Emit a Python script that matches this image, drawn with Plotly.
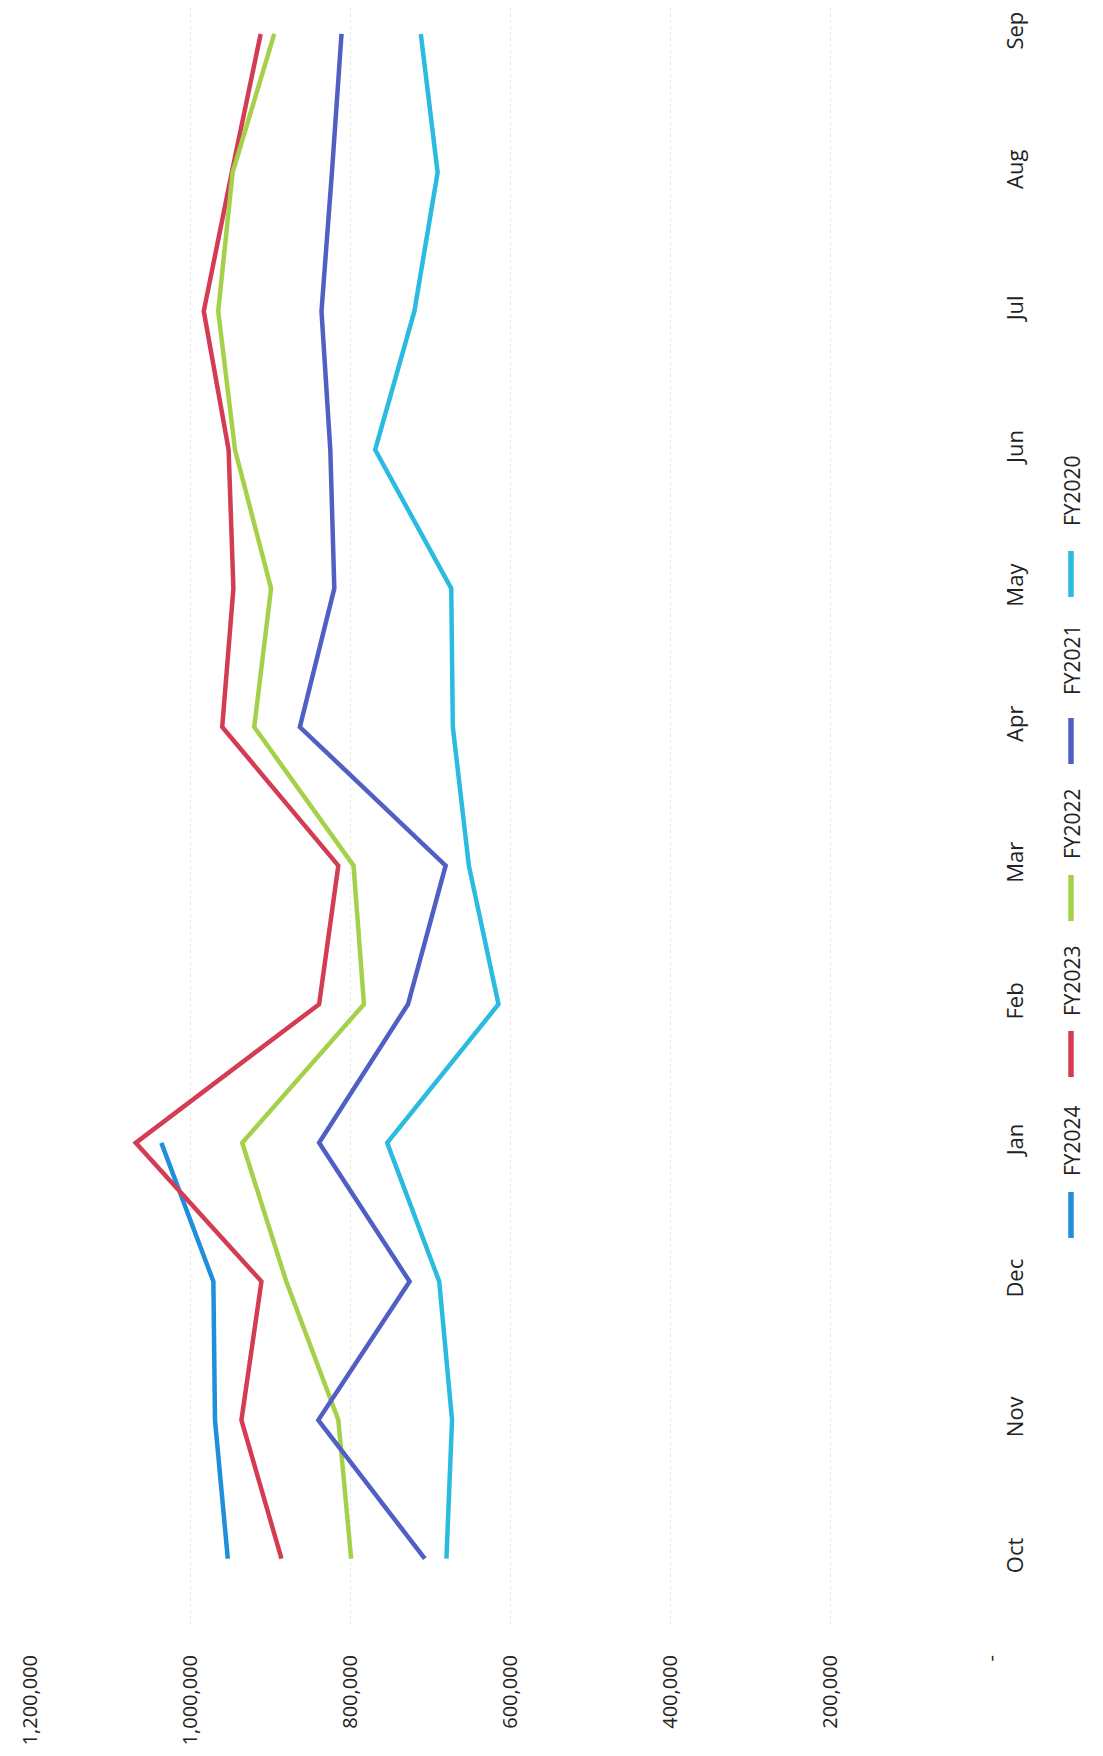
import plotly.graph_objects as go

months = ["Oct", "Nov", "Dec", "Jan", "Feb", "Mar", "Apr", "May", "Jun", "Jul", "Aug", "Sep"]

fy2024 = [953000, 969000, 971000, 1036000, None, None, None, None, None, None, None, None]
fy2023 = [886000, 936000, 911000, 1068000, 839000, 815000, 960000, 946000, 952000, 983000, 948000, 912000]
fy2022 = [799000, 815000, 880000, 935000, 783000, 796000, 920000, 899000, 944000, 965000, 947000, 895000]
fy2021 = [707000, 840000, 726000, 839000, 728000, 681000, 863000, 820000, 825000, 836000, 823000, 811000]
fy2020 = [680000, 673000, 689000, 754000, 615000, 652000, 672000, 674000, 769000, 720000, 691000, 712000]

series_names = ["FY2024", "FY2023", "FY2022", "FY2021", "FY2020"]
series_values = [fy2024, fy2023, fy2022, fy2021, fy2020]
series_colors = ["#1f8fdb", "#d43c54", "#a5d04a", "#4f5fc4", "#2bbbe0"]

value_ticks = [0, 200000, 400000, 600000, 800000, 1000000, 1200000]
value_labels = ["-", "200,000", "400,000", "600,000", "800,000", "1,000,000", "1,200,000"]

W, H = 1103, 1756
L, R, T, B = 22, W - 983, 0, H - 1620
PW, PH = W - L - R, H - T - B

def px(x):
    return (x - L) / PW

def py(y):
    return (H - B - y) / PH

fig = go.Figure()
for name, vals, col in zip(series_names, series_values, series_colors):
    fig.add_trace(go.Scatter(
        x=vals, y=months, mode="lines", name=name,
        line=dict(color=col, width=4.5), connectgaps=False,
        hoverinfo="skip",
    ))

# manual rotated legend (vertical text like the scanned page)
legend_text_y = [1133, 973, 816, 652, 483]
legend_swatch_y = [1207, 1046, 890, 733, 566]
for name, col, ty, sy in zip(series_names, series_colors, legend_text_y, legend_swatch_y):
    fig.add_shape(type="line", xref="paper", yref="paper",
                  x0=px(1063), x1=px(1063), y0=py(sy - 23), y1=py(sy + 23),
                  line=dict(color=col, width=5.5))
    fig.add_annotation(text=name, xref="paper", yref="paper",
                       x=px(1064), y=py(ty), showarrow=False, textangle=-90,
                       font=dict(family="Open Sans", size=21, color="#222"),
                       xanchor="center", yanchor="middle")

fig.update_layout(
    width=W, height=H,
    margin=dict(l=L, r=R, t=T, b=B),
    paper_bgcolor="white", plot_bgcolor="white",
    showlegend=False,
    font=dict(family="Open Sans", color="#222"),
)
fig.update_xaxes(
    range=[1200000, 0], autorange=False,
    tickvals=value_ticks, ticktext=value_labels,
    tickangle=-90, tickfont=dict(size=20, color="#222"),
    showgrid=True, gridcolor="#e6e6e6", griddash="dot", gridwidth=1,
    zeroline=False, showline=False, ticks="",
    ticklabelstandoff=22,
)
fig.update_yaxes(
    type="category", categoryorder="array", categoryarray=months,
    range=[-0.5, 11 + 26 / 138.9],
    side="right", tickangle=-90, tickfont=dict(size=22, color="#222"),
    showgrid=False, zeroline=False, showline=False, ticks="",
    ticklabelstandoff=9,
)

fig.write_html("out.html")
